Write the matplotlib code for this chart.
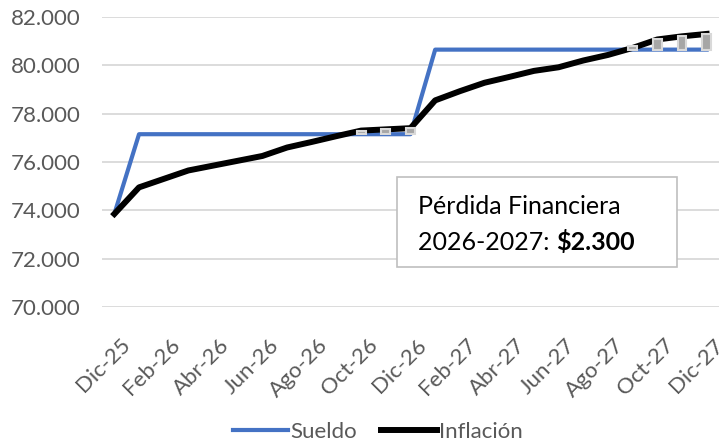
import matplotlib.pyplot as plt
from matplotlib.patches import Rectangle
from matplotlib.transforms import ScaledTranslation

# meses Dic-25 .. Dic-27
meses = ['Dic-25', 'Ene-26', 'Feb-26', 'Mar-26', 'Abr-26', 'May-26', 'Jun-26',
         'Jul-26', 'Ago-26', 'Sep-26', 'Oct-26', 'Nov-26', 'Dic-26',
         'Ene-27', 'Feb-27', 'Mar-27', 'Abr-27', 'May-27', 'Jun-27',
         'Jul-27', 'Ago-27', 'Sep-27', 'Oct-27', 'Nov-27', 'Dic-27']
sueldo = [73.85] + [77.15] * 12 + [80.65] * 12
inflacion = [73.85, 74.95, 75.3, 75.65, 75.85, 76.05, 76.25, 76.6, 76.83, 77.07,
             77.3, 77.35, 77.4, 78.55, 78.93, 79.28, 79.52, 79.77, 79.92, 80.2,
             80.43, 80.72, 81.07, 81.2, 81.3]
texto_1 = 'Pérdida Financiera'
texto_2 = '2026-2027: '
texto_monto = '$2.300'

plt.rcParams['font.family'] = ['Lato', 'DejaVu Sans']

fig = plt.figure(figsize=(7.28, 4.45), dpi=100)
ax = fig.add_axes([102 / 728, 1 - 307 / 445, 617 / 728, 290 / 445])

x = list(range(len(meses)))
ax.plot(x, sueldo, color='#4472C4', lw=3, label='Sueldo', zorder=3)
ax.plot(x, inflacion, color='black', lw=4.3, label='Inflación', zorder=4)

# marcas grises donde la inflacion supera al sueldo
xs, bases, alturas = [], [], []
for i in x:
    if inflacion[i] > sueldo[i]:
        xs.append(i)
        bases.append(sueldo[i])
        alturas.append(max(inflacion[i] - sueldo[i], 0.13))
ax.bar(xs, alturas, bottom=bases, width=0.36, color='#a6a6a6',
       edgecolor='#d9d9d9', linewidth=1.5, zorder=5)

ax.set_xlim(-0.5, len(meses) - 0.5)
ax.set_ylim(70, 82)
ax.set_yticks(range(70, 83, 2))
ax.set_yticklabels([f'{v:.3f}' for v in range(70, 83, 2)])
ax.set_xticks(x[::2])
ax.set_xticklabels(meses[::2], rotation=45, ha='right', rotation_mode='anchor')
ax.tick_params(length=0, labelsize=16, colors='#595959')
ax.tick_params(axis='y', pad=15.5)
ax.tick_params(axis='x', pad=20)
desplazar = ScaledTranslation(6 / 100, 0, fig.dpi_scale_trans)
for lab in ax.get_xticklabels():
    lab.set_transform(lab.get_transform() + desplazar)
ax.grid(axis='y', color='#d9d9d9', lw=1.3)
ax.set_axisbelow(True)
for s in ax.spines.values():
    s.set_visible(False)

# caja de texto
ax.add_patch(Rectangle((0.478, 0.138), 0.454, 0.31, transform=ax.transAxes,
                       facecolor='white', edgecolor='#bfbfbf', lw=1.2, zorder=6))
ax.text(0.512, 0.345, texto_1, transform=ax.transAxes, fontsize=18,
        va='center', ha='left', zorder=7)
t2 = ax.text(0.512, 0.224, texto_2, transform=ax.transAxes, fontsize=18,
             va='center', ha='left', zorder=7)
ax.annotate(texto_monto, xy=(1, 0), xycoords=t2, va='bottom', ha='left',
            fontsize=18, fontweight='bold', zorder=7)

leg = fig.legend(loc='center', bbox_to_anchor=(0.519, 0.029), ncol=2,
                 frameon=False, fontsize=16, handlelength=2.5, handletextpad=0.1,
                 columnspacing=1.1, borderpad=0)
for txt in leg.get_texts():
    txt.set_color('#595959')

fig.savefig('out.png', dpi=100)
